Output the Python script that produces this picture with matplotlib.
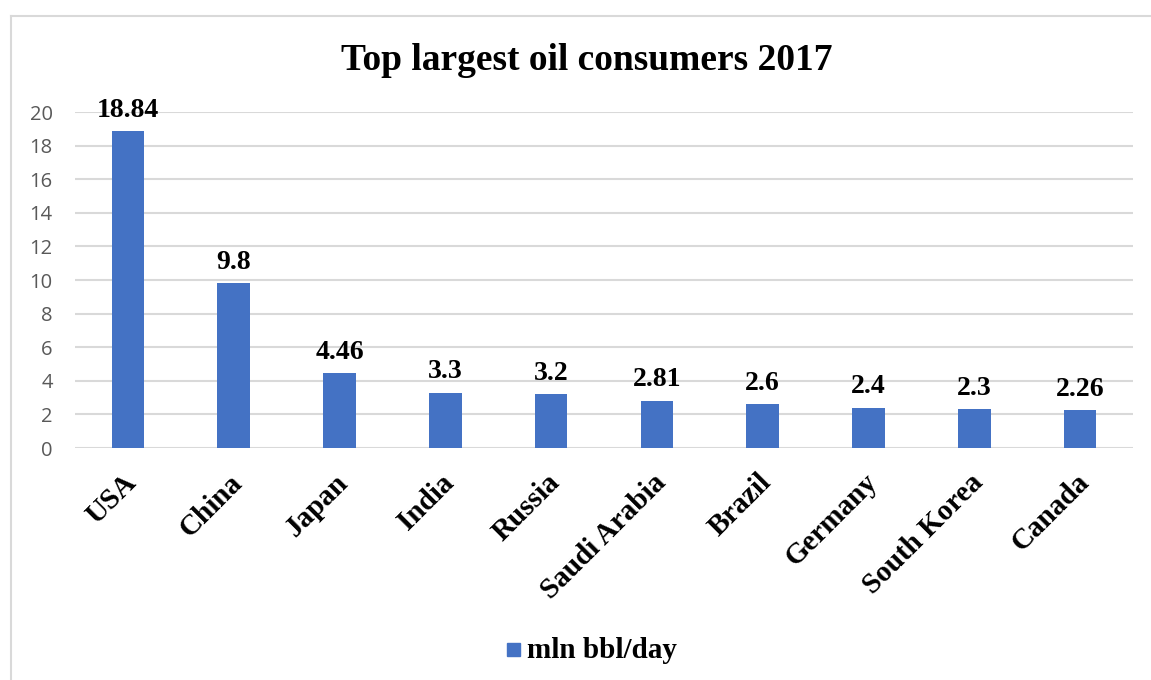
import matplotlib.pyplot as plt
import matplotlib.transforms as mtransforms
from matplotlib.patches import Rectangle
from matplotlib.lines import Line2D

countries = ["USA", "China", "Japan", "India", "Russia", "Saudi Arabia",
             "Brazil", "Germany", "South Korea", "Canada"]
consumption = [18.84, 9.8, 4.46, 3.3, 3.2, 2.81, 2.6, 2.4, 2.3, 2.26]
labels = ["18.84", "9.8", "4.46", "3.3", "3.2", "2.81", "2.6", "2.4", "2.3", "2.26"]
yticks = [0, 2, 4, 6, 8, 10, 12, 14, 16, 18, 20]

bar_color = "#4472C4"
grid_color = "#D9D9D9"
serif = ["Liberation Serif", "DejaVu Serif"]
sans = ["Open Sans", "DejaVu Sans"]

fig = plt.figure(figsize=(11.51, 6.80), dpi=100)
ax = fig.add_axes([75 / 1151, 1 - 448 / 680, (1133 - 75) / 1151, (448 - 112) / 680])

x = list(range(len(countries)))
ax.bar(x, consumption, width=0.31, color=bar_color, zorder=3)
ax.set_xlim(-0.5, len(countries) - 0.5)
ax.set_ylim(0, 20)
ax.set_yticks(yticks)
ax.set_yticklabels([str(t) for t in yticks], family=sans, fontsize=14.5, color="#595959")
ax.yaxis.grid(True, color=grid_color, linewidth=1.5, zorder=0)
ax.tick_params(axis="both", length=0)
ax.tick_params(axis="y", pad=16)
for s in ax.spines.values():
    s.set_visible(False)

ax.set_xticks(x)
ax.set_xticklabels(countries, rotation=45, ha="right", rotation_mode="anchor",
                   family=serif, fontsize=21, fontweight="bold")
ax.tick_params(axis="x", pad=15)
shift = mtransforms.ScaledTranslation(-5 / 100, 0, fig.dpi_scale_trans)
for t in ax.get_xticklabels():
    t.set_transform(t.get_transform() + shift)

for xi, v, lab in zip(x, consumption, labels):
    ax.annotate(lab, (xi, v), xytext=(0, 6), textcoords="offset points",
                ha="center", va="bottom", family=serif, fontsize=20,
                fontweight="bold", zorder=4)

fig.text(587 / 1151, 1 - 60 / 680, "Top largest oil consumers 2017",
         ha="center", va="center", family=serif, fontsize=27, fontweight="bold")

# legend entry at the bottom
fig.patches.append(Rectangle((507 / 1151, 1 - 656 / 680), 13 / 1151, 13 / 680,
                             transform=fig.transFigure, color=bar_color))
fig.text(527 / 1151, 1 - 650 / 680, "mln bbl/day", ha="left", va="center",
         family=serif, fontsize=21, fontweight="bold")

# chart frame (left and top edges)
fig.add_artist(Line2D([11 / 1151, 11 / 1151], [0, 1 - 16 / 680],
                      transform=fig.transFigure, color=grid_color, linewidth=1.5))
fig.add_artist(Line2D([11 / 1151, 1], [1 - 16 / 680, 1 - 16 / 680],
                      transform=fig.transFigure, color=grid_color, linewidth=1.5))

fig.savefig("out.png", dpi=100)
